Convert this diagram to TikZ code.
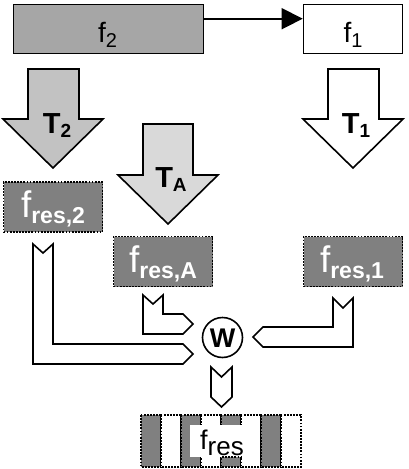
\documentclass[tikz,border=0pt]{standalone}
\usepackage{fontspec}
\setmainfont{Liberation Sans}
\usetikzlibrary{arrows.meta}
\definecolor{ftwogray}{gray}{0.65}
\definecolor{ttwogray}{gray}{0.76}
\definecolor{tagray}{gray}{0.85}
\definecolor{resgray}{gray}{0.5}
\newcommand\sublab[5]{{\fontsize{#3}{#3}\selectfont #1\raisebox{-#5}{\fontsize{#4}{#4}\selectfont #2}}}
\begin{document}
\begin{tikzpicture}[x=1pt,y=-1pt,
  topbox/.style={draw, line width=1.6pt, minimum height=49pt, inner sep=0pt},
  resbox/.style={draw, fill=resgray, dash pattern=on 1.8pt off 1.3pt, line width=1.8pt, minimum width=99pt, minimum height=50pt, inner sep=0pt},
  dotbar/.style={draw, dash pattern=on 1.8pt off 1.3pt, line width=1.8pt},
  blockarrow/.style={draw, line width=1.6pt, line join=miter},
  lbl/.style={anchor=base, inner sep=0pt},
  wlbl/.style={anchor=base, inner sep=0pt, text=white}]
\useasboundingbox (0,0) rectangle (408,469);

% top boxes
\node[topbox, fill=ftwogray, minimum width=190pt] (f2) at (108.5,29) {};
\node[topbox, fill=white, minimum width=99pt] (f1) at (353,29) {};
\node[lbl] (f2t) at (107.5,42) {\sublab{f}{2}{28}{20}{5pt}};
\node[lbl] (f1t) at (353,42) {\sublab{f}{1}{28}{20}{5pt}};
\draw[line width=1.6pt, -{Triangle[length=21pt,width=21pt]}] ([yshift=-15pt]f2.north east) -- ([yshift=-15pt]f1.north west);

% T arrows
\draw[blockarrow, fill=ttwogray] (28,69) -- (79,69) -- (79,119) -- (103,119) -- (53,168) -- (3,119) -- (28,119) -- cycle;
\draw[blockarrow, fill=tagray] (143,124) -- (193,124) -- (193,175) -- (218,175) -- (168,224) -- (118,175) -- (143,175) -- cycle;
\draw[blockarrow, fill=white] (328,69) -- (379,69) -- (379,119) -- (403,119) -- (353,168) -- (303,119) -- (328,119) -- cycle;
\node[lbl] (t2) at (57,133) {\bfseries\sublab{T}{2}{29}{19}{4pt}};
\node[lbl] (ta) at (171,187) {\bfseries\sublab{T}{A}{29}{19}{4pt}};
\node[lbl] (t1) at (356,133) {\bfseries\sublab{T}{1}{29}{19}{4pt}};

% result boxes
\node[resbox] (r2) at (53,207) {};
\node[resbox] (ra) at (163,261.5) {};
\node[resbox] (r1) at (353,261.5) {};
\node[wlbl] (r2t) at (53,217.5) {\sublab{f}{\bfseries res,2}{37}{23}{6pt}};
\node[wlbl] (rat) at (163,272) {\sublab{f}{\bfseries res,A}{37}{23}{6pt}};
\node[wlbl] (r1t) at (352,272) {\sublab{f}{\bfseries res,1}{37}{23}{6pt}};

% hollow connectors
\draw[blockarrow, fill=white] (33,244) -- (43,253) -- (53,244) -- (53,344) -- (183,344) -- (193,354) -- (183,364) -- (33,364) -- cycle;
\draw[blockarrow, fill=white] (143,295) -- (153,304) -- (163,295) -- (163,314) -- (183,314) -- (193,324) -- (183,334) -- (143,334) -- cycle;
\draw[blockarrow, fill=white] (333,298) -- (343,308) -- (353,298) -- (353,347) -- (263,347) -- (253,337) -- (263,327) -- (333,327) -- cycle;
\draw[blockarrow, fill=white] (211,367) -- (221.5,377) -- (232,367) -- (232,397) -- (221.5,407) -- (211,397) -- cycle;

% W
\node[circle, draw, line width=1.6pt, minimum size=40pt, inner sep=0pt] (w) at (222.5,337.5) {};
\node[anchor=center, inner sep=0pt] (wt) at (222.5,338) {\fontsize{27}{27}\selectfont\bfseries W};

% combined result
\foreach \i in {0,...,7} {
  \pgfmathsetmacro\xl{141+20*\i}
  \pgfmathtruncatemacro\ev{mod(\i,2)}
  \ifnum\ev=0
    \draw[dotbar, fill=resgray] (\xl,415) rectangle ++(20,52);
  \else
    \draw[dotbar, fill=white] (\xl,415) rectangle ++(20,52);
  \fi
}
\fill[white] (190,425) rectangle (245,457);
\draw[dotbar] (222,457) -- (242,457);
\node[lbl] (fres) at (222,449) {\sublab{f}{res}{27}{26}{6pt}};
\end{tikzpicture}
\end{document}
